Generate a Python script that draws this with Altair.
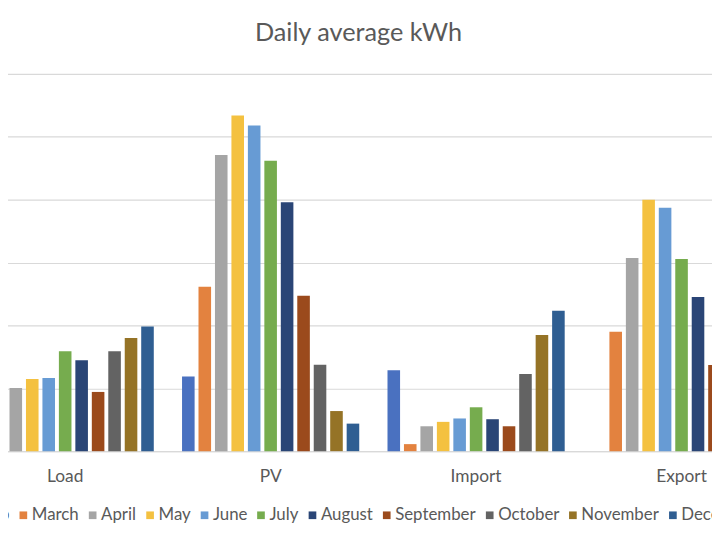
import altair as alt
import pandas as pd

categories = ["Load", "PV", "Import", "Export"]
months = ["Feb", "March", "April", "May", "June", "July", "August",
          "September", "October", "November", "December"]
colors = ["#4A71C0", "#E3823F", "#A5A5A5", "#F4C140", "#679BD4", "#76AC4E",
          "#2A4576", "#9B4A1C", "#636363", "#957326", "#2F5E92"]

load = [9.6, 7.54, 5.03, 5.74, 5.82, 7.94, 7.22, 4.71, 7.94, 9.0, 9.92]
pv = [5.94, 13.07, 23.56, 26.7, 25.9, 23.1, 19.8, 12.36, 6.87, 3.19, 2.19]
imports = [6.43, 0.56, 1.98, 2.33, 2.6, 3.49, 2.54, 1.98, 6.14, 9.24, 11.17]
export = [0.0, 9.5, 15.37, 20.0, 19.36, 15.29, 12.25, 6.85, 3.0, 0.8, 0.3]

series = {"Load": load, "PV": pv, "Import": imports, "Export": export}
rows = []
for cat in categories:
    for m, v in zip(months, series[cat]):
        rows.append({"category": cat, "month": m, "value": v})
df = pd.DataFrame(rows)

FONT = "Lato"
TXT = "#595959"

chart = alt.Chart(df).mark_bar().encode(
    x=alt.X("category:N", sort=categories,
            scale=alt.Scale(paddingInner=0, paddingOuter=0),
            axis=alt.Axis(title=None, labelAngle=0, ticks=False, tickSize=0,
                          labelPadding=17, labelFontSize=17.5, labelFont=FONT,
                          labelColor=TXT, domainColor="#D9D9D9", domainWidth=1.2,
                          grid=False)),
    xOffset=alt.XOffset("month:N", sort=months,
                        scale=alt.Scale(paddingInner=0.236, paddingOuter=0.858)),
    y=alt.Y("value:Q", scale=alt.Scale(domain=[0, 30]),
            axis=alt.Axis(title=None, values=[0, 5, 10, 15, 20, 25, 30],
                          domain=False, ticks=False, grid=True, labels=False,
                          gridColor="#D9D9D9", gridWidth=1.2)),
    color=alt.Color("month:N", sort=months,
                    scale=alt.Scale(domain=months, range=colors),
                    legend=alt.Legend(orient="none", legendX=3, legendY=437,
                                      direction="horizontal", columns=11,
                                      title=None, symbolType="square",
                                      symbolSize=60, symbolStrokeWidth=0,
                                      labelFont=FONT, labelFontSize=17,
                                      labelColor=TXT, labelOffset=0,
                                      columnPadding=5, padding=0)),
).properties(
    width=830,
    height=381,
    title=alt.TitleParams("Daily average kWh", font=FONT, fontSize=25.5,
                          fontWeight="normal", color=TXT, frame="group",
                          anchor="middle", dx=-15, offset=27.5),
    padding={"left": -46, "top": 64, "right": -73, "bottom": 72},
    autosize=alt.AutoSizeParams(type="none"),
).configure_view(strokeWidth=0)

chart.save("out.html", embed_options={"renderer": "svg", "actions": False})
